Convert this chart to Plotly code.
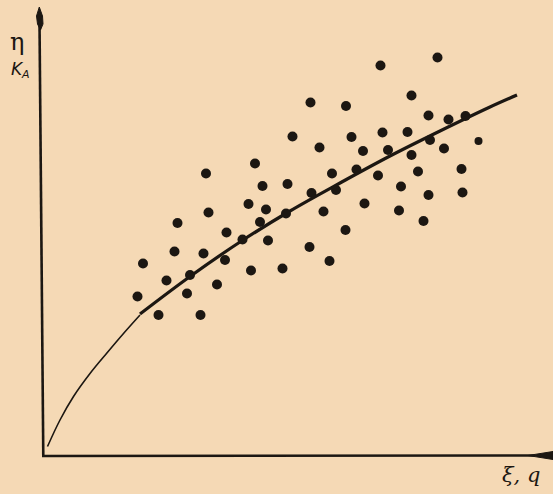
import plotly.graph_objects as go

# Scatter data (arbitrary units)
pts_x = [5.35, 4.99, 5.53, 4.24, 3.26, 5.78, 4.39, 4.89, 5.37, 5.86, 4.11, 4.46, 3.31, 4.86, 5.61,
         2.69, 4.34, 3.67, 3.99, 4.50, 2.63, 3.21, 5.33, 3.64, 2.00, 5.73, 4.16, 4.79, 2.47, 2.94,
         3.48, 2.88, 1.89, 2.31, 3.15, 6.75, 7.89, 6.06, 7.37, 7.71, 8.11, 8.45, 6.17, 6.79, 7.29,
         6.40, 6.90, 7.74, 8.02, 7.37, 8.71, 6.27, 6.70, 7.50, 8.37, 7.16, 7.71, 8.39, 6.43, 7.12,
         7.61, 6.05]
pts_y = [7.07, 6.39, 6.17, 5.85, 5.65, 5.65, 5.40, 5.44, 5.26, 5.32, 5.04, 4.93, 4.87, 4.85, 4.89,
         4.66, 4.68, 4.47, 4.33, 4.31, 4.09, 4.05, 4.18, 3.92, 3.85, 3.90, 3.71, 3.75, 3.51, 3.62,
         3.43, 3.25, 3.19, 2.82, 2.82, 7.81, 7.97, 7.00, 7.21, 6.81, 6.73, 6.80, 6.38, 6.47, 6.48,
         6.10, 6.12, 6.32, 6.15, 6.02, 6.30, 5.73, 5.61, 5.69, 5.74, 5.39, 5.22, 5.27, 5.05, 4.91,
         4.70, 4.52]
pts_size = [10] * len(pts_x)
pts_size[50] = 8

# Fitted curve: extrapolated (thin) part and measured (thick) part
ext_x = [0.09, 0.34, 0.61, 0.94, 1.27, 1.61, 1.94]
ext_y = [0.19, 0.72, 1.19, 1.65, 2.05, 2.45, 2.82]
fit_x = [1.94, 2.94, 3.94, 4.94, 5.94, 6.94, 7.94, 8.94, 9.48]
fit_y = [2.84, 3.59, 4.28, 4.90, 5.46, 6.00, 6.50, 6.98, 7.22]

BG = "#f5d9b5"
INK = "#1c1712"

def dx(px):
    return (px - 43) / 50.0

def dy(py):
    return (456 - py) / 50.0

fig = go.Figure()
fig.add_trace(go.Scatter(x=ext_x, y=ext_y, mode="lines", line=dict(color=INK, width=1.6, shape="spline"),
                         hoverinfo="skip"))
fig.add_trace(go.Scatter(x=fit_x, y=fit_y, mode="lines", line=dict(color=INK, width=3.2, shape="spline"),
                         hoverinfo="skip"))
fig.add_trace(go.Scatter(x=pts_x, y=pts_y, mode="markers", opacity=1,
                         marker=dict(color=INK, size=pts_size, opacity=1, line=dict(width=0))))

shapes = [
    # y axis
    dict(type="line", xref="x", yref="y", x0=dx(43.3), y0=dy(457), x1=dx(39.5), y1=dy(22),
         line=dict(color=INK, width=2.6)),
    # y axis arrow head
    dict(type="path", xref="x", yref="y", fillcolor=INK, line=dict(color=INK, width=1),
         path=f"M {dx(39.3)} {dy(7)} L {dx(42.5)} {dy(16)} L {dx(43)} {dy(24)} L {dx(40.5)} {dy(30)} "
              f"L {dx(37.5)} {dy(24)} L {dx(36.5)} {dy(16)} Z"),
    # x axis
    dict(type="line", xref="x", yref="y", x0=dx(42), y0=dy(456), x1=dx(535), y1=dy(455.5),
         line=dict(color=INK, width=2.6)),
    # x axis arrow head
    dict(type="path", xref="x", yref="y", fillcolor=INK, line=dict(color=INK, width=1),
         path=f"M {dx(528)} {dy(455.5)} L {dx(553)} {dy(451.5)} L {dx(553)} {dy(459.5)} Z"),
]

annotations = [
    dict(x=dx(17), y=dy(42), text="η", showarrow=False, xanchor="center", yanchor="middle",
         font=dict(family="DejaVu Serif", size=24, color=INK)),
    dict(x=dx(17), y=dy(69), text="K", showarrow=False, xanchor="center", yanchor="middle",
         font=dict(family="DejaVu Sans", size=17, color=INK, style="italic")),
    dict(x=dx(25), y=dy(74), text="A", showarrow=False, xanchor="center", yanchor="middle",
         font=dict(family="DejaVu Sans", size=11, color=INK, style="italic")),
    dict(x=dx(521), y=dy(475), text="ξ, q", showarrow=False, xanchor="center", yanchor="middle",
         font=dict(family="DejaVu Serif", size=21, color=INK, style="italic")),
]

fig.update_layout(
    width=553, height=494,
    margin=dict(l=0, r=0, t=0, b=0),
    paper_bgcolor=BG, plot_bgcolor=BG,
    showlegend=False,
    xaxis=dict(range=[dx(0), dx(553)], visible=False, fixedrange=True),
    yaxis=dict(range=[dy(494), dy(0)], visible=False, fixedrange=True),
    shapes=shapes,
    annotations=annotations,
)

fig.write_html("out.html", config={"displayModeBar": False},
               post_script="document.body.style.margin='0';document.body.style.background='%s';" % BG)
